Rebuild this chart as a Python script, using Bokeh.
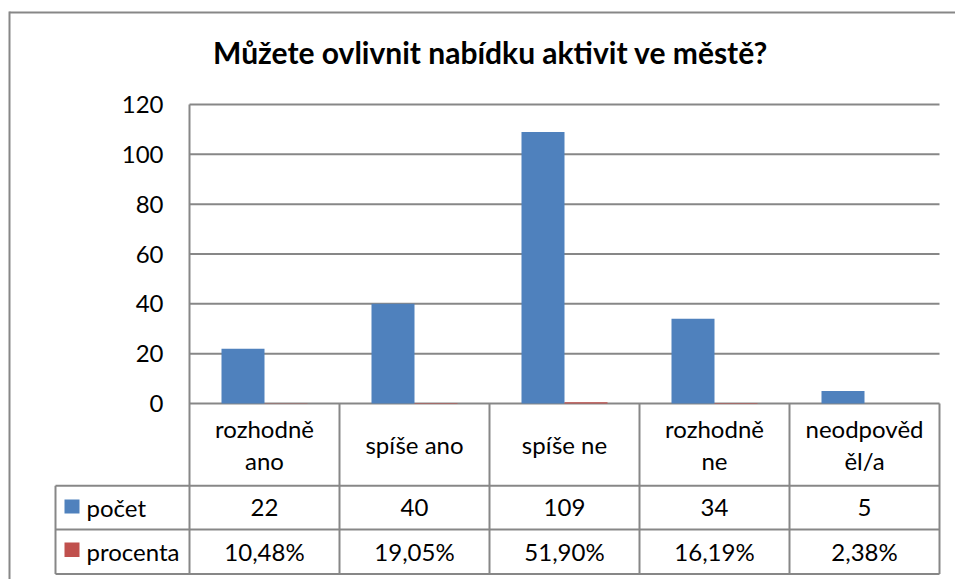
import numpy as np
from bokeh.plotting import figure
from bokeh.models import Range1d, FixedTicker, ColumnDataSource
from bokeh.core.properties import value
from bokeh.embed import file_html
from bokeh.resources import INLINE

# ---------------- data ----------------
title_text = "Můžete ovlivnit nabídku aktivit ve městě?"
categories = ["rozhodně\nano", "spíše ano", "spíše ne", "rozhodně\nne", "neodpověd\něl/a"]
series_names = ["počet", "procenta"]
pocet = [22, 40, 109, 34, 5]
procenta = [0.1048, 0.1905, 0.5190, 0.1619, 0.0238]
y_ticks = [0, 20, 40, 60, 80, 100, 120]

# ---------------- style / layout ----------------
BLUE = "#4F81BD"
RED = "#C0504D"
GRID = "#878787"
FONT = "Lato"
FS = "24px"

W, H = 955, 579
X0_PX, PX_X = 189.0, 150.0          # pixel of category axis origin, px per category
Y0_PX, PX_Y = 403.0, 299.0 / 120.0  # pixel of value 0, px per value unit


def X(px):   # canvas pixel -> x data
    return (px - X0_PX) / PX_X


def Y(py):   # canvas pixel -> y data
    return (Y0_PX - py) / PX_Y


n = len(categories)
idx = np.arange(n)
bar_w = 0.2867
vmax = max(y_ticks)

row_px = [403.0, 485.3, 529.0, 573.5]       # table row edges
row_edges = [Y(v) for v in row_px]
row_centers = [Y((row_px[i] + row_px[i + 1]) / 2) for i in range(3)]
legend_left = X(55)

p = figure(width=W, height=H,
           min_border_left=0, min_border_right=0,
           min_border_top=0, min_border_bottom=0,
           x_range=Range1d(X(0), X(W)),
           y_range=Range1d(Y(H), Y(0)),
           x_axis_location=None, output_backend="svg",
           toolbar_location=None, tools="")
p.title.visible = False
p.outline_line_color = None
p.grid.visible = False
p.background_fill_color = "white"
p.border_fill_color = "white"

# y axis (labels pushed into the plot canvas)
ax = p.yaxis[0]
ax.ticker = FixedTicker(ticks=y_ticks)
ax.axis_line_color = None
ax.major_tick_line_color = None
ax.minor_tick_line_color = None
ax.major_tick_out = 0
ax.major_tick_in = 0
ax.major_label_standoff = -163
ax.major_label_text_font = FONT
ax.major_label_text_font_size = FS
ax.major_label_text_color = "black"

# outer chart border (top + left; right/bottom lie outside the picture)
p.segment(x0=[X(9)], x1=[X(W + 20)], y0=[Y(12)], y1=[Y(12)],
          line_color=GRID, line_width=2)
p.segment(x0=[X(9)], x1=[X(9)], y0=[Y(11)], y1=[Y(H + 20)],
          line_color=GRID, line_width=2)

# gridlines (plot area only)
p.segment(x0=[0] * len(y_ticks), x1=[n] * len(y_ticks), y0=y_ticks, y1=y_ticks,
          line_color=GRID, line_width=2)
# vertical axis / table lines
vx = list(range(n + 1))
p.segment(x0=vx, x1=vx, y0=[vmax] + [0] * n, y1=[row_edges[-1]] * (n + 1),
          line_color=GRID, line_width=2)
# table horizontal lines incl. legend column
p.segment(x0=[legend_left] * 3, x1=[n] * 3, y0=row_edges[1:], y1=row_edges[1:],
          line_color=GRID, line_width=2)
p.segment(x0=[legend_left], x1=[legend_left], y0=[row_edges[1]], y1=[row_edges[3]],
          line_color=GRID, line_width=2)

# bars
src = ColumnDataSource(dict(x1=idx + 0.5 - bar_w / 2, x2=idx + 0.5 + bar_w / 2,
                            pocet=pocet, procenta=procenta))
p.vbar(x="x1", top="pocet", bottom=0, width=bar_w, source=src,
       fill_color=BLUE, line_color=None)
p.vbar(x="x2", top="procenta", bottom=0, width=bar_w, source=src,
       fill_color=RED, line_color=None)

# table texts
tfont = dict(text_font=value(FONT), text_font_size=value(FS), text_color="black",
             text_align="center", text_baseline="middle")
p.text(x=idx + 0.5, y=[row_centers[0]] * n, text=categories, text_line_height=1.08, **tfont)
p.text(x=idx + 0.5, y=[row_centers[1]] * n, text=[str(v) for v in pocet], **tfont)
p.text(x=idx + 0.5, y=[row_centers[2]] * n,
       text=[f"{v * 100:.2f}".replace(".", ",") + "%" for v in procenta], **tfont)

# legend keys inside the table
key_top = [Y(499), Y(542)]
key_bot = [Y(513), Y(556.5)]
p.quad(left=[X(64)] * 2, right=[X(79)] * 2, top=key_top, bottom=key_bot,
       fill_color=[BLUE, RED], line_color=None)
p.text(x=[X(86)] * 2, y=row_centers[1:], text=series_names,
       text_font=value(FONT), text_font_size=value(FS), text_color="black",
       text_align="left", text_baseline="middle")

# chart title
p.text(x=[X(490)], y=[Y(51)], text=[title_text],
       text_font=value(FONT), text_font_size=value("30px"), text_font_style="bold",
       text_color="black", text_align="center", text_baseline="middle")

open("out.html", "w", encoding="utf-8").write(file_html(p, INLINE))
